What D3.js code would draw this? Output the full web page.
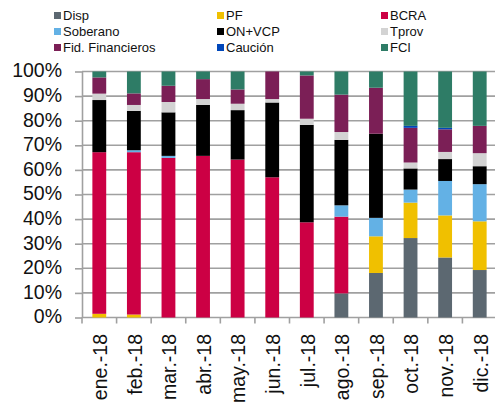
<!DOCTYPE html>
<html>
<head>
<meta charset="utf-8">
<script src="https://cdn.jsdelivr.net/npm/d3@7"></script>
<style>
  html, body { margin: 0; padding: 0; background: #fff; }
  svg { display: block; font-family: "Liberation Sans", Arial, sans-serif; }
</style>
</head>
<body>
<svg id="chart" width="495" height="404"></svg>
<script>
const months = ["ene.-18","feb.-18","mar.-18","abr.-18","may.-18","jun.-18","jul.-18","ago.-18","sep.-18","oct.-18","nov.-18","dic.-18"];
const seriesNames = ["Disp","PF","BCRA","Soberano","ON+VCP","Tprov","Fid. Financieros","Caución","FCI"];
const seriesColors = ["#5c6871","#f0c000","#cc0044","#63b1e5","#000000","#d3d3d3","#7b1f56","#0047ba","#2e7c66"];
const yTicks = [0,10,20,30,40,50,60,70,80,90,100];

const disp      = [0,   0,   0,   0,   0,   0,   0,   9.8, 18.1, 32.3, 24.4, 19.3];
const pf        = [1.5, 1.2, 0,   0,   0,   0,   0,   0,   14.9, 14.4, 17.1, 19.8];
const bcra      = [65.7,66.0,64.9,65.7,64.2,57.0,38.7,31.2, 0,    0,    0,    0];
const soberano  = [0,   0.8, 0.8, 0,   0,   0,   0,   4.6, 7.5,  5.3,  14.0, 15.1];
const onvcp     = [21.2,16.0,17.7,20.7,20.1,30.4,39.6,26.6,34.2, 8.6,  8.9,  7.3];
const tprov     = [2.6, 2.4, 4.2, 2.4, 2.6, 1.4, 2.5, 3.2, 0,    2.4,  2.9,  5.3];
const fid       = [6.6, 4.7, 6.6, 8.1, 5.8, 11.2,17.6,15.2,18.7, 14.1, 9.2,  11.1];
const caucion   = [0,   0,   0,   0,   0,   0,   0,   0,   0,    0.8,  0.6,  0];
const fci       = [2.4, 8.9, 5.8, 3.1, 7.3, 0,   1.6, 9.4, 6.6,  22.1, 22.9, 22.1];

const seriesValues = [disp, pf, bcra, soberano, onvcp, tprov, fid, caucion, fci];

const table = months.map((m, i) => {
  const row = { month: m };
  seriesNames.forEach((s, j) => row[s] = seriesValues[j][i]);
  return row;
});

const svg = d3.select("#chart");
const mLeft = 82, mRight = 497, mTop = 71.5, mBottom = 317.5;

const x = d3.scaleBand().domain(months).range([mLeft, mRight]).paddingInner(0.6).paddingOuter(0.3);
const y = d3.scaleLinear().domain([0, 100]).range([mBottom, mTop]);

// gridlines
svg.append("g").selectAll("line").data(yTicks).join("line")
  .attr("x1", mLeft).attr("x2", 495)
  .attr("y1", d => y(d)).attr("y2", d => y(d))
  .attr("stroke", "#a0a0a0").attr("stroke-width", 1.6);

// stacked bars
const stack = d3.stack().keys(seriesNames)(table);
svg.append("g").selectAll("g").data(stack).join("g")
  .attr("fill", (d, i) => seriesColors[i])
  .selectAll("rect").data(d => d).join("rect")
  .attr("x", d => x(d.data.month))
  .attr("width", x.bandwidth())
  .attr("y", d => y(d[1]))
  .attr("height", d => Math.max(0, y(d[0]) - y(d[1])));

// y axis
const yAxis = d3.axisLeft(y).tickValues(yTicks).tickFormat(d => d + "%").tickSize(7).tickSizeOuter(0).tickPadding(13);
const gy = svg.append("g").attr("transform", `translate(${mLeft},0)`).call(yAxis);
gy.select(".domain").attr("stroke", "#a0a0a0").attr("stroke-width", 1.6);
gy.selectAll(".tick line").attr("stroke", "#a0a0a0").attr("stroke-width", 1.6);
gy.selectAll(".tick text").attr("font-size", "19.5px").attr("fill", "#111")
  .attr("font-family", "'Liberation Sans', Arial, sans-serif").attr("dy", "0.28em");

// x axis ticks (between categories)
const step = x.step();
const boundaries = d3.range(months.length + 1).map(i => mLeft + i * step);
svg.append("g").selectAll("line").data(boundaries).join("line")
  .attr("x1", d => d).attr("x2", d => d)
  .attr("y1", mBottom).attr("y2", mBottom + 6)
  .attr("stroke", "#a0a0a0").attr("stroke-width", 1.6);

// x labels
svg.append("g").selectAll("text").data(months).join("text")
  .attr("transform", d => `translate(${x(d) + x.bandwidth() / 2 + 1},334) rotate(-90)`)
  .attr("text-anchor", "end")
  .attr("dy", "0.35em")
  .attr("font-size", "19.5px")
  .attr("fill", "#111")
  .text(d => d);

// legend
const legendCols = [54, 217, 381];
const legendRows = [15.5, 31.5, 47.5];
const lg = svg.append("g").selectAll("g").data(seriesNames).join("g")
  .attr("transform", (d, i) => `translate(${legendCols[i % 3]},${legendRows[Math.floor(i / 3)]})`);
lg.append("rect").attr("x", 0).attr("y", -3.5).attr("width", 7).attr("height", 7)
  .attr("fill", (d, i) => seriesColors[i]);
lg.append("text").attr("x", 9).attr("dy", "0.35em").attr("font-size", "13px").attr("fill", "#111")
  .text(d => d);
</script>
</body>
</html>
